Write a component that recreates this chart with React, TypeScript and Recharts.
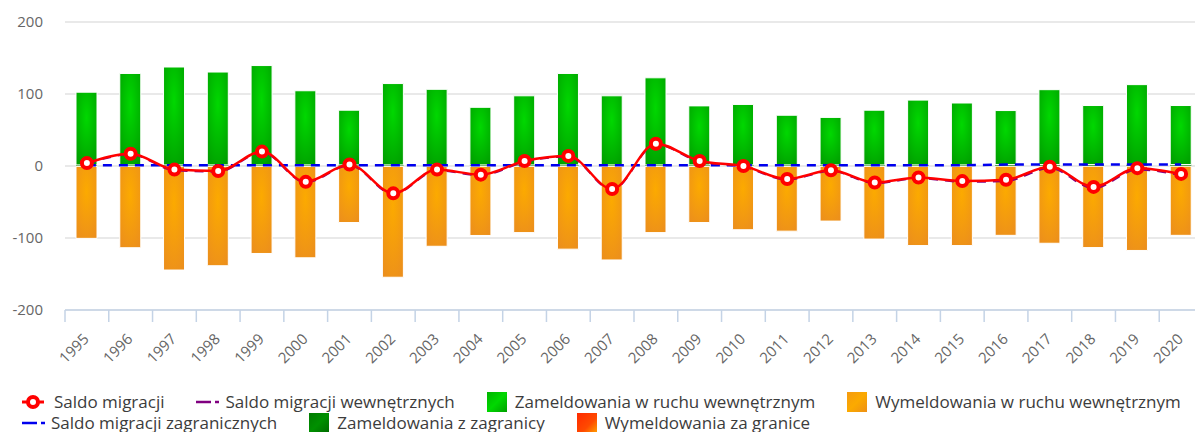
import React from "react"
import { ComposedChart, Bar, Line, XAxis, YAxis, CartesianGrid } from "recharts"

const years = [
  "1995", "1996", "1997", "1998", "1999", "2000", "2001", "2002", "2003", "2004", "2005", "2006", "2007",
  "2008", "2009", "2010", "2011", "2012", "2013", "2014", "2015", "2016", "2017", "2018", "2019", "2020",
]
const saldoMigracji = [4, 17, -5, -7, 20, -22, 2, -38, -5, -12, 7, 14, -32, 31, 7, 0, -18, -6, -23, -16, -21, -19, -1, -29, -3, -11]
const saldoZagranicznych = [1, 1, 1, 1, 1, 1, 1, 1, 1, 1, 1, 1, 1, 1, 1, 1, 1, 1, 1, 1, 1, 2, 2, 2, 2, 2]
const zameldowaniaWewn = [101, 127, 136, 129, 138, 103, 76, 113, 105, 80, 96, 127, 96, 121, 82, 84, 69, 66, 76, 90, 86, 75, 104, 82, 111, 82]
const wymeldowaniaWewn = [-100, -113, -144, -138, -121, -127, -78, -154, -111, -96, -92, -115, -130, -92, -78, -88, -90, -76, -101, -110, -110, -96, -107, -113, -117, -96]
const zameldowaniaZagr = [1.5, 1.5, 1.5, 1.5, 1.5, 1.5, 1.5, 1.5, 1.5, 1.5, 1.5, 1.5, 1.5, 1.5, 1.5, 1.5, 1.5, 1.5, 1.5, 1.5, 1.5, 2, 2, 2, 2, 2]
const wymeldowaniaZagr = [-0.5, -0.5, -0.5, -0.5, -0.5, -0.5, -0.5, -0.5, -0.5, -0.5, -0.5, -0.5, -0.5, -0.5, -0.5, -0.5, -0.5, -0.5, -0.5, -0.5, -0.5, -0.3, -0.3, -0.3, -0.3, -0.3]
const yTicks = [-200, -100, 0, 100, 200]

const data = years.map((year, i) => ({
  year,
  saldo: saldoMigracji[i],
  saldoWewn: saldoMigracji[i] - saldoZagranicznych[i],
  saldoZagr: saldoZagranicznych[i],
  zamWewn: zameldowaniaWewn[i],
  wymWewn: wymeldowaniaWewn[i],
  zamZagr: zameldowaniaZagr[i],
  wymZagr: wymeldowaniaZagr[i],
}))

const WIDTH = 1195
const LEFT = 57
const BAND = (WIDTH - LEFT) / years.length
const FONT = "'Open Sans', sans-serif"

const XTick = (props: any) => {
  const { x, y, payload } = props
  const bx = x - BAND / 2
  const ax = x + 3
  const ay = y + 16
  return (
    <g>
      <line x1={bx} y1={y - 14} x2={bx} y2={y - 2} stroke="#c4d3e6" strokeWidth={1.5} />
      <text
        x={ax}
        y={ay}
        transform={`rotate(-45 ${ax} ${ay})`}
        textAnchor="end"
        fill="#666"
        fontSize={15}
        fontFamily={FONT}
      >
        {payload.value}
      </text>
    </g>
  )
}

const YTick = (props: any) => {
  const { y, payload } = props
  return (
    <text x={35} y={y} dy={5} textAnchor="end" fill="#666" fontSize={15} fontFamily={FONT}>
      {payload.value}
    </text>
  )
}

const RingDot = (props: any) => {
  const { cx, cy, index } = props
  if (cx == null || cy == null) return <g key={index} />
  return <circle key={index} cx={cx} cy={cy} r={5} fill="#fff" stroke="#ff0000" strokeWidth={4} />
}

const Square = ({ fill }: { fill: string }) => (
  <svg width={20} height={20} style={{ marginRight: 8 }}>
    <rect x={0} y={0} width={20} height={20} fill={fill} />
  </svg>
)

const DashIcon = ({ color }: { color: string }) => (
  <svg width={23} height={6} style={{ marginRight: 6 }}>
    <line x1={0} y1={3} x2={15} y2={3} stroke={color} strokeWidth={2.5} />
    <line x1={19} y1={3} x2={23} y2={3} stroke={color} strokeWidth={2.5} />
  </svg>
)

const RingIcon = () => (
  <svg width={24} height={18} style={{ marginRight: 8 }}>
    <line x1={0} y1={9} x2={22} y2={9} stroke="#ff0000" strokeWidth={3} />
    <circle cx={11} cy={9} r={5} fill="#fff" stroke="#ff0000" strokeWidth={4} />
  </svg>
)

const item = (icon: React.ReactNode, label: string) => (
  <div key={label} style={{ display: "flex", alignItems: "center", marginRight: 32, whiteSpace: "nowrap" }}>
    {icon}
    <span>{label}</span>
  </div>
)

const LegendBox = () => (
  <div style={{ paddingLeft: 14, fontFamily: FONT, fontSize: 17, color: "#3c3c3c", lineHeight: "21px" }}>
    <div style={{ display: "flex" }}>
      {item(<RingIcon />, "Saldo migracji")}
      {item(<DashIcon color="#800080" />, "Saldo migracji wewnętrznych")}
      {item(<Square fill="url(#lgGreen)" />, "Zameldowania w ruchu wewnętrznym")}
      {item(<Square fill="url(#lgOrange)" />, "Wymeldowania w ruchu wewnętrznym")}
    </div>
    <div style={{ display: "flex" }}>
      {item(<DashIcon color="#0000ee" />, "Saldo migracji zagranicznych")}
      {item(<Square fill="url(#lgDark)" />, "Zameldowania z zagranicy")}
      {item(<Square fill="url(#lgRed)" />, "Wymeldowania za granice")}
    </div>
  </div>
)

export default function App() {
  return (
    <div style={{ width: WIDTH, background: "#fff" }}>
      <svg width={0} height={0} style={{ position: "absolute" }}>
        <defs>
          <linearGradient id="lgGreen" x1="0" y1="0" x2="1" y2="1">
            <stop offset="0%" stopColor="#00b400" />
            <stop offset="50%" stopColor="#00d800" />
            <stop offset="100%" stopColor="#00a000" />
          </linearGradient>
          <linearGradient id="lgOrange" x1="0" y1="0" x2="1" y2="1">
            <stop offset="0%" stopColor="#f59a10" />
            <stop offset="50%" stopColor="#fbaa00" />
            <stop offset="100%" stopColor="#ee9015" />
          </linearGradient>
          <linearGradient id="lgDark" x1="0" y1="0" x2="1" y2="1">
            <stop offset="0%" stopColor="#007a00" />
            <stop offset="50%" stopColor="#009000" />
            <stop offset="100%" stopColor="#006a00" />
          </linearGradient>
          <linearGradient id="lgRed" x1="0" y1="0" x2="1" y2="1">
            <stop offset="0%" stopColor="#ff2a00" />
            <stop offset="60%" stopColor="#ff4a00" />
            <stop offset="100%" stopColor="#ffa000" />
          </linearGradient>
        </defs>
      </svg>
      <ComposedChart
        width={WIDTH}
        height={383}
        data={data}
        stackOffset="sign"
        margin={{ top: 14, right: 0, left: 0, bottom: 0 }}
      >
        <defs>
          <radialGradient id="gGreen" cx="50%" cy="35%" r="75%">
            <stop offset="0%" stopColor="#00d800" />
            <stop offset="100%" stopColor="#009e00" />
          </radialGradient>
          <radialGradient id="gOrange" cx="50%" cy="35%" r="75%">
            <stop offset="0%" stopColor="#fcaa00" />
            <stop offset="100%" stopColor="#ec8f1c" />
          </radialGradient>
          <linearGradient id="gDark" x1="0" y1="0" x2="0" y2="1">
            <stop offset="0%" stopColor="#008c00" />
            <stop offset="100%" stopColor="#006c00" />
          </linearGradient>
          <linearGradient id="gRed" x1="0" y1="0" x2="0" y2="1">
            <stop offset="0%" stopColor="#ff3000" />
            <stop offset="100%" stopColor="#ff9000" />
          </linearGradient>
        </defs>
        <CartesianGrid vertical={false} stroke="#e2e2e2" strokeWidth={1.5} />
        <XAxis
          dataKey="year"
          interval={0}
          height={81}
          stroke="#c4d3e6"
          strokeWidth={1.5}
          tickLine={false}
          tickSize={12}
          tickMargin={2}
          tick={<XTick />}
        />
        <YAxis
          width={LEFT}
          domain={[-200, 200]}
          ticks={yTicks}
          axisLine={false}
          tickLine={false}
          tick={<YTick />}
        />
        <Bar dataKey="zamZagr" stackId="a" barSize={21} fill="url(#gDark)" isAnimationActive={false} />
        <Bar dataKey="zamWewn" stackId="a" barSize={21} fill="url(#gGreen)" stroke="#fff" strokeWidth={1} isAnimationActive={false} />
        <Bar dataKey="wymZagr" stackId="a" barSize={21} fill="url(#gRed)" isAnimationActive={false} />
        <Bar dataKey="wymWewn" stackId="a" barSize={21} fill="url(#gOrange)" stroke="#fff" strokeWidth={1} isAnimationActive={false} />
        <Line
          dataKey="saldoZagr"
          type="linear"
          stroke="#0000ee"
          strokeWidth={2.5}
          strokeDasharray="9 7"
          dot={false}
          activeDot={false}
          isAnimationActive={false}
        />
        <Line
          dataKey="saldoWewn"
          type="monotone"
          stroke="#800080"
          strokeWidth={2}
          strokeDasharray="9 7"
          dot={false}
          activeDot={false}
          isAnimationActive={false}
        />
        <Line
          dataKey="saldo"
          type="monotone"
          stroke="#ff0000"
          strokeWidth={2.5}
          dot={<RingDot />}
          activeDot={false}
          isAnimationActive={false}
        />
      </ComposedChart>
      <LegendBox />
    </div>
  )
}
